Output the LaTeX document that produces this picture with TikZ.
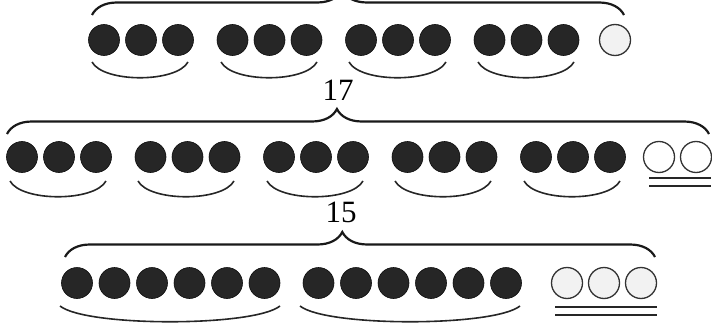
\documentclass[tikz,border=0pt]{standalone}
\usepackage{fontspec}
\setmainfont{Liberation Serif}
\usetikzlibrary{decorations.pathreplacing}
\begin{document}
\begin{tikzpicture}[x=1pt,y=-1pt,
  ball/.style={fill=black!85,draw=black!95,line width=0.6pt},
  pale/.style={fill=black!5,draw=black!80,line width=1.3pt},
  bigbrace/.style={decorate,decoration={brace,amplitude=25pt,aspect=0.47},draw=black!90,line width=2.2pt},
  smile/.style={draw=black!85,line width=1.6pt},
  num/.style={font=\fontsize{31}{32}\selectfont}]
\useasboundingbox (0,0) rectangle (712,329);
% 分组示意
\draw[bigbrace] (92,15) -- (624,15);
\foreach \g in {104,232.5,361,489.5}
  \foreach \i in {0,1,2} \path[ball] (\g+37*\i,40) circle[radius=15.5];
\path[pale] (615,40) circle[radius=15.5];
\foreach \a/\b in {92/188,221/317,349/446,478/574}
  \draw[smile] (\a,62) .. controls (\a+0.12*\b-0.12*\a,83) and (\b-0.12*\b+0.12*\a,83) .. (\b,62);
\node[num] (n17) at (338,90) {17};
\draw[bigbrace] (7,134) -- (709,134);
\foreach \g in {22,150.5,279,407.5,536}
  \foreach \i in {0,1,2} \path[ball] (\g+37*\i,157) circle[radius=15.5];
\foreach \x in {659,696} \path[pale,fill=white] (\x,157) circle[radius=15.5];
\foreach \a/\b in {10/106,138/234,267/363,395/491,524/620}
  \draw[smile] (\a,181) .. controls (\a+0.12*\b-0.12*\a,202) and (\b-0.12*\b+0.12*\a,202) .. (\b,181);
\draw[smile] (649,178) -- (711,178);
\draw[smile] (649,186) -- (711,186);
\node[num] (n15) at (341,212) {15};
\draw[bigbrace] (65,257) -- (655,257);
\foreach \g in {77,318.5}
  \foreach \i in {0,...,5} \path[ball] (\g+37.5*\i,283) circle[radius=15.5];
\foreach \x in {567,604,641} \path[pale] (\x,283) circle[radius=15.5];
\foreach \a/\b in {60/280,300/520}
  \draw[smile] (\a,306) .. controls (\a+0.12*\b-0.12*\a,327) and (\b-0.12*\b+0.12*\a,327) .. (\b,306);
\draw[smile] (555,307) -- (657,307);
\draw[smile] (555,315) -- (657,315);
\end{tikzpicture}
\end{document}
